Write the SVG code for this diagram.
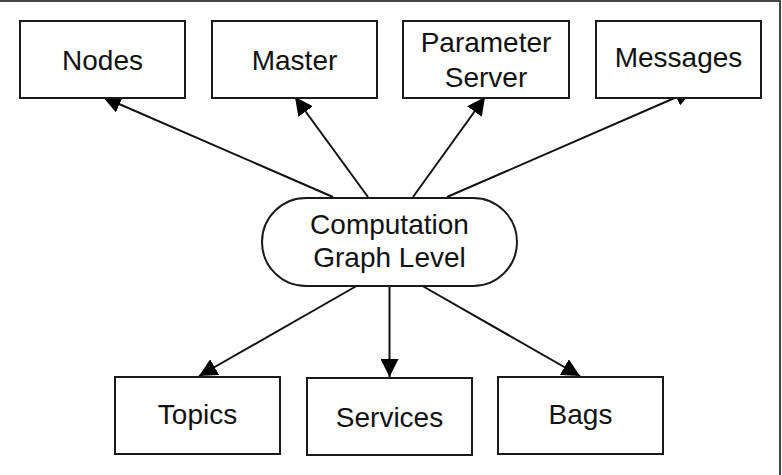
<svg xmlns="http://www.w3.org/2000/svg" width="782" height="475" viewBox="0 0 782 475">
  <style>
    .box { fill: #ffffff; stroke: #1a1a1a; stroke-width: 2; }
    .lbl { font-family: "Liberation Sans", Arial, sans-serif; font-size: 28px; fill: #111111; text-anchor: middle; }
    .edge { stroke: #111111; stroke-width: 2; fill: none; marker-end: url(#arrow); }
    .frame { stroke: #444444; stroke-width: 2; fill: none; }
  </style>
  <defs>
    <marker id="arrow" viewBox="0 0 18 18" refX="18" refY="9" markerWidth="18" markerHeight="18" markerUnits="userSpaceOnUse" orient="auto">
      <path d="M0,0 L18,9 L0,18 z" fill="#000000"/>
    </marker>
  </defs>
  <rect width="782" height="475" fill="#ffffff"/>
  <path class="frame" d="M0,1 H780 V475"/>

  <g id="connectors">
    <line class="edge" x1="333" y1="197" x2="103" y2="97"/>
    <line class="edge" x1="368" y1="197" x2="295" y2="97"/>
    <line class="edge" x1="413" y1="197" x2="485" y2="97"/>
    <line class="edge" x1="447" y1="197" x2="693" y2="90"/>
    <line class="edge" x1="356.5" y1="286" x2="199" y2="376"/>
    <line class="edge" x1="389.5" y1="286" x2="389.5" y2="377"/>
    <line class="edge" x1="422.5" y1="286" x2="580" y2="376"/>
  </g>

  <g id="node-nodes">
    <rect class="box" x="20" y="21" width="165" height="77"/>
    <text class="lbl" x="102.5" y="69.5">Nodes</text>
  </g>
  <g id="node-master">
    <rect class="box" x="212" y="21" width="165" height="77"/>
    <text class="lbl" x="294.5" y="69.5">Master</text>
  </g>
  <g id="node-parameter-server">
    <rect class="box" x="403" y="21" width="166" height="77"/>
    <text class="lbl" x="486" y="52">Parameter</text>
    <text class="lbl" x="486" y="87">Server</text>
  </g>
  <g id="node-messages">
    <rect class="box" x="596" y="21" width="165" height="77"/>
    <text class="lbl" x="678.5" y="67">Messages</text>
  </g>

  <g id="node-computation-graph-level">
    <rect class="box" x="262" y="198" width="255" height="88" rx="44" ry="44"/>
    <text class="lbl" x="389.5" y="234">Computation</text>
    <text class="lbl" x="389.5" y="267">Graph Level</text>
  </g>

  <g id="node-topics">
    <rect class="box" x="115" y="377" width="165" height="77"/>
    <text class="lbl" x="197.5" y="424">Topics</text>
  </g>
  <g id="node-services">
    <rect class="box" x="307" y="378" width="165" height="77"/>
    <text class="lbl" x="389.5" y="427">Services</text>
  </g>
  <g id="node-bags">
    <rect class="box" x="498" y="377" width="165" height="77"/>
    <text class="lbl" x="580.5" y="424">Bags</text>
  </g>
</svg>
